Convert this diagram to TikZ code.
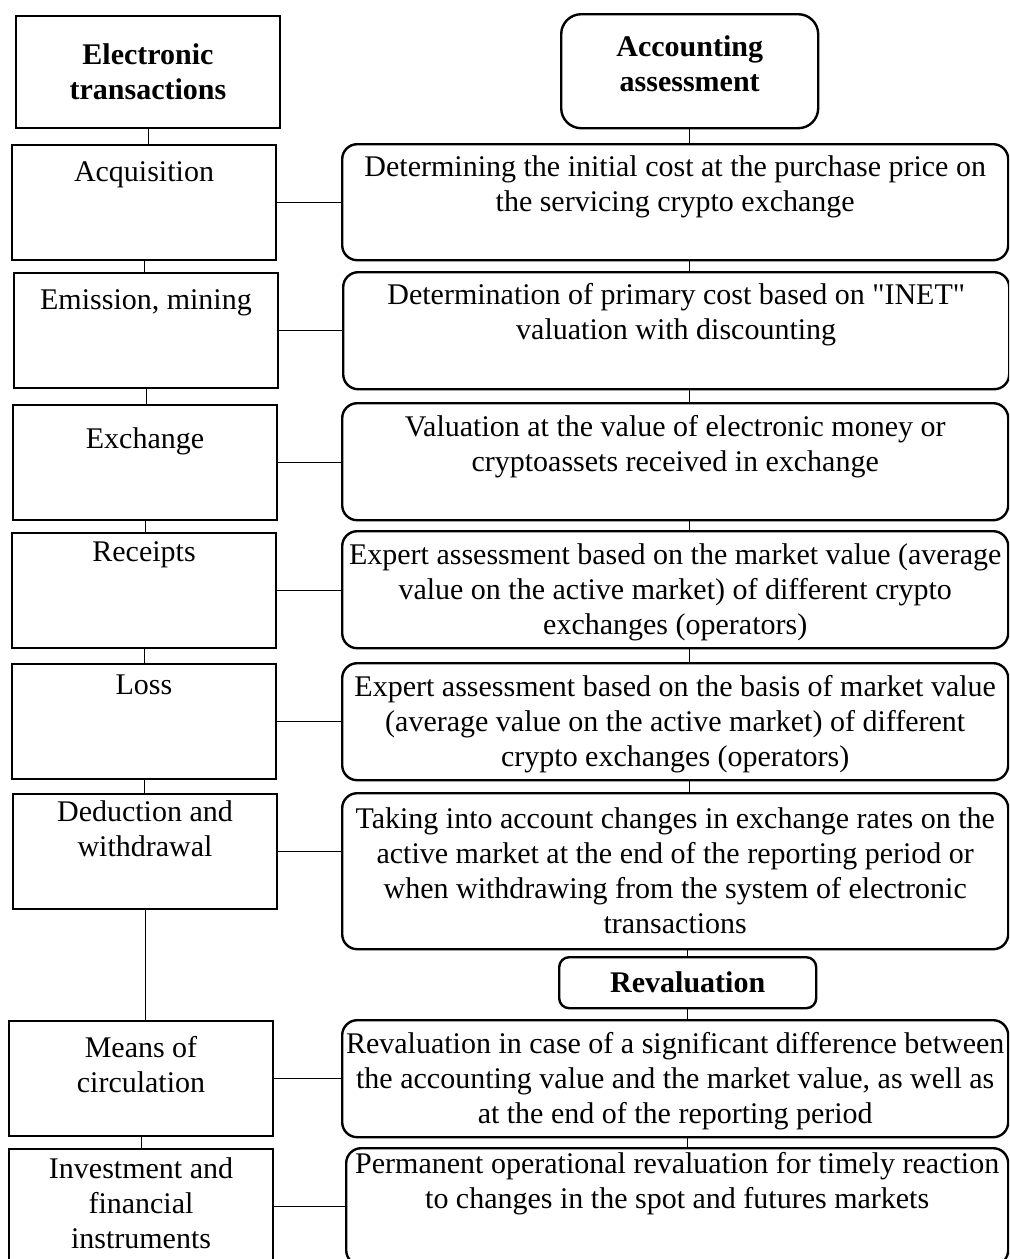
\documentclass[tikz,border=0pt]{standalone}
\usepackage{fontspec}
\setmainfont{Liberation Serif}

\begin{document}
\begin{tikzpicture}[x=0.5pt,y=-0.5pt,
  every node/.style={font=\fontsize{15}{17.5}\selectfont, inner sep=0pt, anchor=north west},
  conn/.style={line width=0.5pt},
  ebox/.style 2 args={draw, line width=1pt, text width=132pt, align=flush center, text height=#1, text depth=#2},
  abox/.style 2 args={draw, line width=1.2pt, rounded corners=7.5pt, inner xsep=-4pt, text width=341pt, align=flush center, text height=#1, text depth=#2},
  head/.style={draw, line width=1.2pt, font=\fontsize{15}{17.5}\selectfont\bfseries, align=flush center, minimum width=128.5pt}]
\clip (0,0) rectangle (1009,1259);

\node[draw, line width=1pt, font=\fontsize{15}{17.5}\selectfont\bfseries, align=flush center, minimum width=132pt, minimum height=56pt] (title) at (15,15) {Electronic\\transactions};
\node[ebox={18pt}{39.5pt}] (acq) at (11,144) {Acquisition};
\node[ebox={18pt}{39.5pt}] (emi) at (13,272) {Emission, mining};
\node[ebox={21.5pt}{36pt}] (exch) at (12,404) {Exchange};
\node[ebox={14pt}{43.5pt}] (rec) at (11,532) {Receipts};
\node[ebox={15pt}{42.5pt}] (loss) at (11,663) {Loss};
\node[ebox={13.5pt}{44pt}] (ded) at (12,793) {Deduction and\\withdrawal};
\node[ebox={18pt}{39.5pt}] (means) at (8,1020) {Means of\\circulation};
\node[ebox={14.5pt}{43pt}] (inv) at (8,1148) {Investment and\\financial\\instruments};

\node[head, rounded corners=10pt, text width=128.5pt, text height=21pt, text depth=36pt] (acc) at (560,13) {Accounting\\assessment};
\node[abox={16pt}{42pt}] (det) at (341,143) {Determining the initial cost at the purchase price on\\the servicing crypto exchange};
\node[abox={16pt}{42.5pt}] (prim) at (342,271) {Determination of primary cost based on \textquotedbl INET\textquotedbl\\valuation with discounting};
\node[abox={16.5pt}{42pt}] (val) at (341,402) {Valuation at the value of electronic money or\\cryptoassets received in exchange};
\node[abox={16.5pt}{42pt}] (expa) at (341,530) {Expert assessment based on the market value (average\\value on the active market) of different crypto\\exchanges (operators)};
\node[abox={16.5pt}{42pt}] (expb) at (341,662) {Expert assessment based on the basis of market value\\(average value on the active market) of different\\crypto exchanges (operators)};
\node[abox={17.5pt}{60.5pt}] (take) at (341,792) {Taking into account changes in exchange rates on the\\active market at the end of the reporting period or\\when withdrawing from the system of electronic\\transactions};
\node[head, rounded corners=5pt, minimum height=25.5pt] (reval) at (558,956) {Revaluation};
\node[abox={16.5pt}{42pt}] (rev) at (341,1019) {Revaluation in case of a significant difference between\\the accounting value and the market value, as well as\\at the end of the reporting period};
\node[abox={12.5pt}{46pt}, text width=339pt] (perm) at (345,1147) {Permanent operational revaluation for timely reaction\\to changes in the spot and futures markets};

\foreach \a/\b in {title/acq,acq/emi,emi/exch,exch/rec,rec/loss,loss/ded,ded/means,means/inv}
  \draw[conn] (\a.south) -- (\a.south |- \b.north);
\foreach \a/\b in {acq/det,emi/prim,exch/val,rec/expa,loss/expb,ded/take,means/rev,inv/perm}
  \draw[conn] (\a.east) -- (\a.east -| \b.west);
\foreach \a/\b in {acc/det,det/prim,prim/val,val/expa,expa/expb,expb/take}
  \draw[conn] (\a.south -| acc.south) -- (\b.north -| acc.south);
\foreach \a/\b in {take/reval,reval/rev,rev/perm}
  \draw[conn] (\a.south -| reval.south) -- (\b.north -| reval.south);
\end{tikzpicture}
\end{document}
